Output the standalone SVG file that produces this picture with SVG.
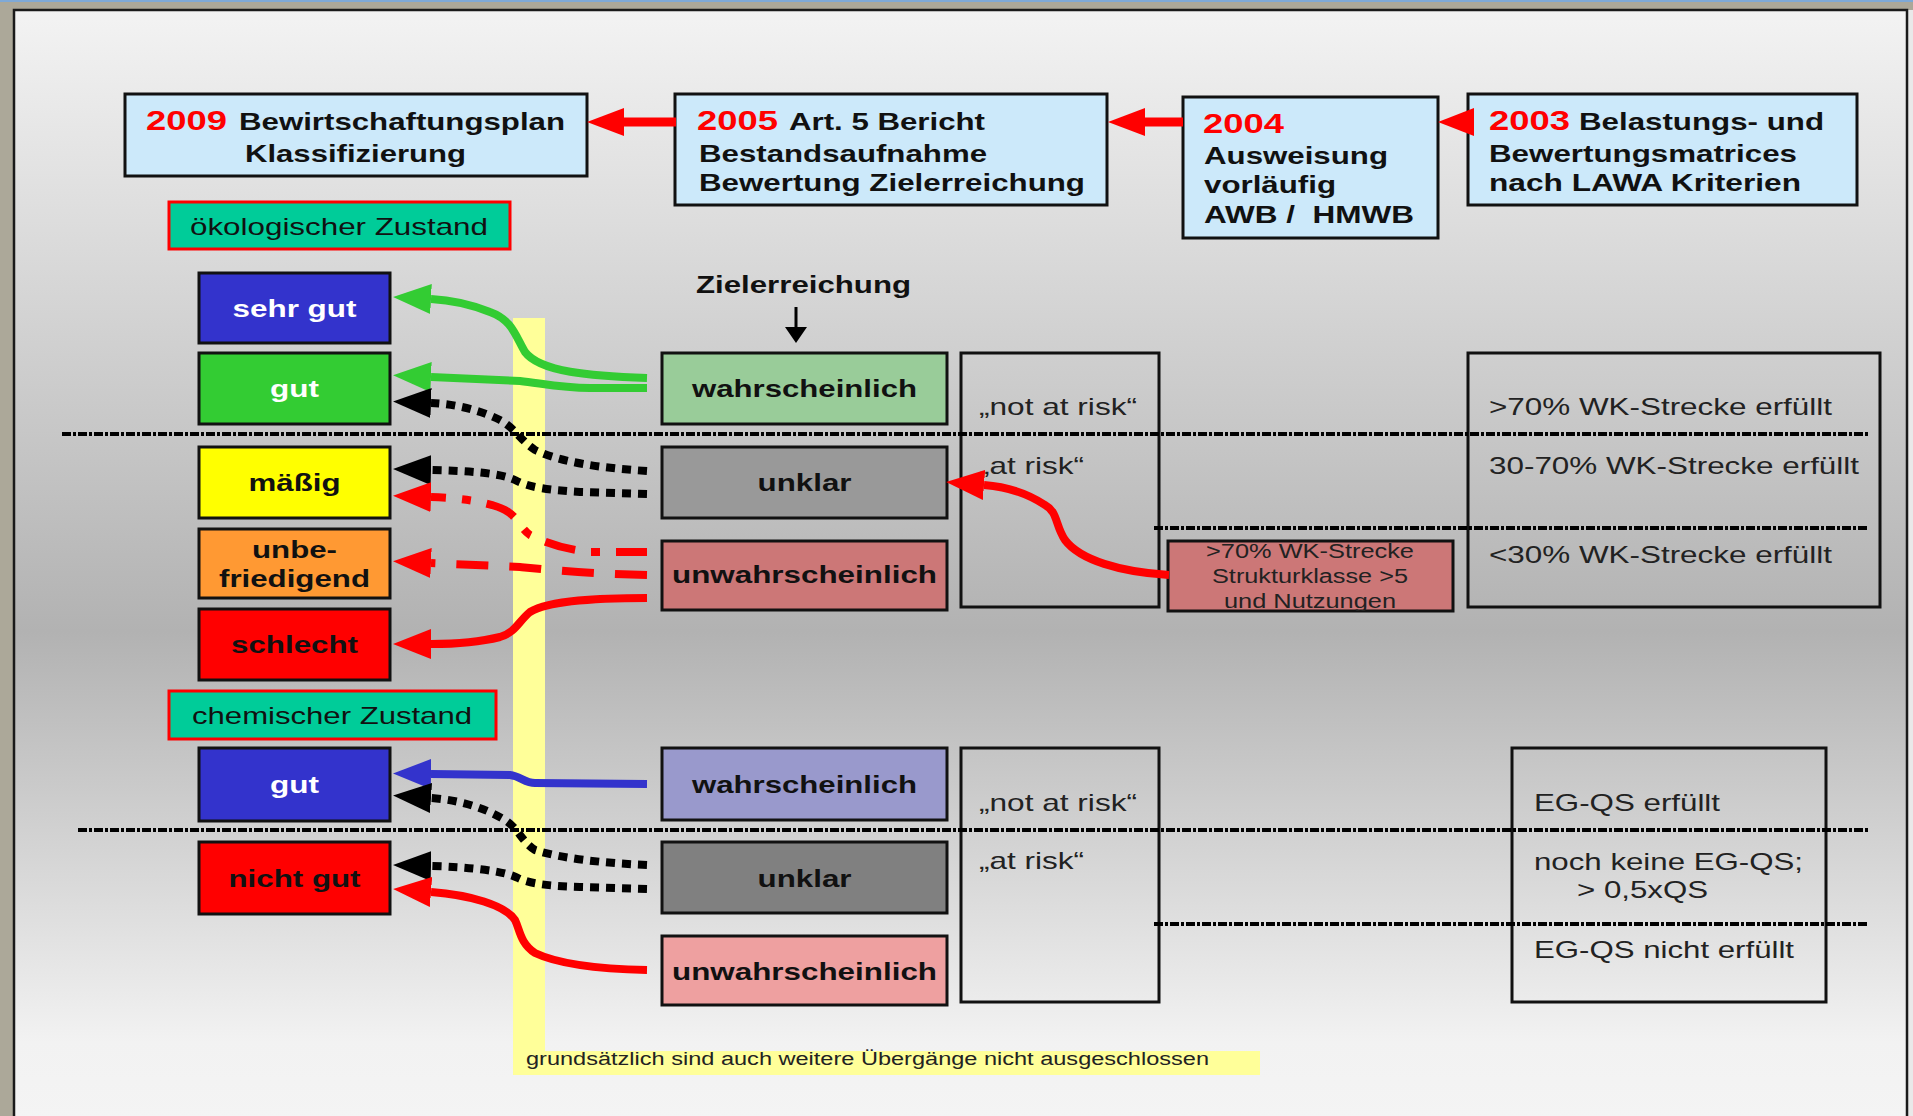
<svg xmlns="http://www.w3.org/2000/svg" width="1913" height="1116" viewBox="0 0 1913 1116">
<defs>
<linearGradient id="bg" x1="0" y1="0" x2="0" y2="1">
<stop offset="0" stop-color="#f3f3f3"/>
<stop offset="0.56" stop-color="#b2b2b2"/>
<stop offset="0.93" stop-color="#f2f2f2"/>
<stop offset="1" stop-color="#f4f4f4"/>
</linearGradient>
<marker id="mG" markerUnits="userSpaceOnUse" markerWidth="38" markerHeight="30" viewBox="0 0 38 30" refX="0" refY="15" orient="auto"><path d="M0,0 L38,15 L0,30 z" fill="#33cc33"/></marker>
<marker id="mK" markerUnits="userSpaceOnUse" markerWidth="38" markerHeight="30" viewBox="0 0 38 30" refX="0" refY="15" orient="auto"><path d="M0,0 L38,15 L0,30 z" fill="#000"/></marker>
<marker id="mR" markerUnits="userSpaceOnUse" markerWidth="38" markerHeight="30" viewBox="0 0 38 30" refX="0" refY="15" orient="auto"><path d="M0,0 L38,15 L0,30 z" fill="#ff0000"/></marker>
<marker id="mB" markerUnits="userSpaceOnUse" markerWidth="38" markerHeight="30" viewBox="0 0 38 30" refX="0" refY="15" orient="auto"><path d="M0,0 L38,15 L0,30 z" fill="#3333cc"/></marker>
<marker id="mT" markerUnits="userSpaceOnUse" markerWidth="37" markerHeight="28" viewBox="0 0 37 28" refX="0" refY="14" orient="auto"><path d="M0,0 L37,14 L0,28 z" fill="#ff0000"/></marker>
<marker id="mD" markerUnits="userSpaceOnUse" markerWidth="16" markerHeight="22" viewBox="0 0 16 22" refX="0" refY="11" orient="auto"><path d="M0,0 L16,11 L0,22 z" fill="#000"/></marker>
<clipPath id="c70"><rect x="1168" y="541" width="285" height="70"/></clipPath>
<style>
.box{stroke:#111;stroke-width:3}
.frame{fill:none;stroke:#111;stroke-width:3}
.top{fill:#cce9fa}
text{font-family:"Liberation Sans",Arial,Helvetica,sans-serif}
.b{font-weight:bold;font-size:24px;fill:#111}
.w{fill:#fff}
.yr{font-size:28px;font-weight:bold;fill:#ff0000}
.r{font-size:24px;fill:#222}
.s{font-size:19.5px;fill:#222}
.f{font-size:18px;fill:#222}
.c{text-anchor:middle}
.pre{white-space:pre}
.dot{fill:none;stroke:#000;stroke-width:4;stroke-dasharray:9 2 3 2}
.ar{fill:none;stroke-width:8}
</style>
</defs>
<rect x="0" y="0" width="1913" height="1116" fill="#aca899"/>
<rect x="0" y="0" width="1913" height="2" fill="#7fa9d6"/>
<rect x="1908" y="10" width="5" height="1106" fill="#e9e9e9"/>
<rect x="14" y="10" width="1893" height="1110" fill="url(#bg)" stroke="#1a1a1a" stroke-width="2.5"/>

<g id="hint">
<rect x="513" y="318" width="32" height="733" fill="#ffff99"/>
<rect x="513" y="1051" width="747" height="24" fill="#ffff99"/>
<text x="526" y="1065" class="f" textLength="683" lengthAdjust="spacingAndGlyphs">grundsätzlich sind auch weitere Übergänge nicht ausgeschlossen</text>
</g>

<g id="n2009">
<rect x="125" y="94" width="462" height="82" class="box top"/>
<text x="146" y="130" class="yr" textLength="81" lengthAdjust="spacingAndGlyphs">2009</text>
<text x="239" y="130" class="b" textLength="326" lengthAdjust="spacingAndGlyphs">Bewirtschaftungsplan</text>
<text x="245" y="162" class="b" textLength="221" lengthAdjust="spacingAndGlyphs">Klassifizierung</text>
</g>
<g id="n2005">
<rect x="675" y="94" width="432" height="111" class="box top"/>
<text x="697" y="130" class="yr" textLength="81" lengthAdjust="spacingAndGlyphs">2005</text>
<text x="789" y="130" class="b" textLength="196" lengthAdjust="spacingAndGlyphs">Art. 5 Bericht</text>
<text x="699" y="162" class="b" textLength="288" lengthAdjust="spacingAndGlyphs">Bestandsaufnahme</text>
<text x="699" y="191" class="b" textLength="386" lengthAdjust="spacingAndGlyphs">Bewertung Zielerreichung</text>
</g>
<g id="n2004">
<rect x="1183" y="97" width="255" height="141" class="box top"/>
<text x="1203" y="133" class="yr" textLength="81" lengthAdjust="spacingAndGlyphs">2004</text>
<text x="1204" y="164" class="b" textLength="184" lengthAdjust="spacingAndGlyphs">Ausweisung</text>
<text x="1204" y="193" class="b" textLength="132" lengthAdjust="spacingAndGlyphs">vorläufig</text>
<text x="1204" y="223" class="b pre" textLength="210" lengthAdjust="spacingAndGlyphs">AWB /  HMWB</text>
</g>
<g id="n2003">
<rect x="1468" y="94" width="389" height="111" class="box top"/>
<text x="1489" y="130" class="yr" textLength="81" lengthAdjust="spacingAndGlyphs">2003</text>
<text x="1579" y="130" class="b" textLength="245" lengthAdjust="spacingAndGlyphs">Belastungs- und</text>
<text x="1489" y="162" class="b" textLength="308" lengthAdjust="spacingAndGlyphs">Bewertungsmatrices</text>
<text x="1489" y="191" class="b" textLength="312" lengthAdjust="spacingAndGlyphs">nach LAWA Kriterien</text>
</g>

<g id="oeko">
<rect x="169" y="202" width="341" height="47" fill="#00cc99" stroke="#ff0000" stroke-width="3"/>
<text x="190" y="235" class="r" style="fill:#111" textLength="298" lengthAdjust="spacingAndGlyphs">ökologischer Zustand</text>
</g>
<g id="sehrgut">
<rect x="199" y="273" width="191" height="70" class="box" fill="#3333cc"/>
<text x="294.5" y="317" class="b w c" textLength="124" lengthAdjust="spacingAndGlyphs">sehr gut</text>
</g>
<g id="gut">
<rect x="199" y="353" width="191" height="71" class="box" fill="#33cc33"/>
<text x="294.5" y="397" class="b w c" textLength="49" lengthAdjust="spacingAndGlyphs">gut</text>
</g>
<g id="maessig">
<rect x="199" y="447" width="191" height="71" class="box" fill="#ffff00"/>
<text x="294.5" y="491" class="b c" textLength="92" lengthAdjust="spacingAndGlyphs">mäßig</text>
</g>
<g id="unbefriedigend">
<rect x="199" y="529" width="191" height="69" class="box" fill="#ff9933"/>
<text x="294.5" y="558" class="b c" textLength="85" lengthAdjust="spacingAndGlyphs">unbe-</text>
<text x="294.5" y="587" class="b c" textLength="151" lengthAdjust="spacingAndGlyphs">friedigend</text>
</g>
<g id="schlecht">
<rect x="199" y="609" width="191" height="71" class="box" fill="#ff0000"/>
<text x="294.5" y="653" class="b c" textLength="127" lengthAdjust="spacingAndGlyphs">schlecht</text>
</g>
<g id="chem">
<rect x="169" y="691" width="327" height="48" fill="#00cc99" stroke="#ff0000" stroke-width="3"/>
<text x="192" y="724" class="r" style="fill:#111" textLength="280" lengthAdjust="spacingAndGlyphs">chemischer Zustand</text>
</g>
<g id="chemgut">
<rect x="199" y="748" width="191" height="73" class="box" fill="#3333cc"/>
<text x="294.5" y="793" class="b w c" textLength="49" lengthAdjust="spacingAndGlyphs">gut</text>
</g>
<g id="nichtgut">
<rect x="199" y="842" width="191" height="72" class="box" fill="#ff0000"/>
<text x="294.5" y="887" class="b c" textLength="132" lengthAdjust="spacingAndGlyphs">nicht gut</text>
</g>

<g id="zielerreichung">
<text x="696" y="293" class="b" textLength="215" lengthAdjust="spacingAndGlyphs">Zielerreichung</text>
</g>
<g id="eco-wahr">
<rect x="662" y="353" width="285" height="71" class="box" fill="#99cc99"/>
<text x="804.5" y="397" class="b c" textLength="225" lengthAdjust="spacingAndGlyphs">wahrscheinlich</text>
</g>
<g id="eco-unklar">
<rect x="662" y="447" width="285" height="71" class="box" fill="#999999"/>
<text x="804.5" y="491" class="b c" textLength="94" lengthAdjust="spacingAndGlyphs">unklar</text>
</g>
<g id="eco-unwahr">
<rect x="662" y="541" width="285" height="69" class="box" fill="#cc7777"/>
<text x="804.5" y="583" class="b c" textLength="265" lengthAdjust="spacingAndGlyphs">unwahrscheinlich</text>
</g>
<g id="eco-risk">
<rect x="961" y="353" width="198" height="254" class="frame"/>
<text x="979" y="415" class="r" textLength="158" lengthAdjust="spacingAndGlyphs">„not at risk“</text>
<text x="979" y="474" class="r" textLength="105" lengthAdjust="spacingAndGlyphs">„at risk“</text>
</g>
<g id="crit70">
<rect x="1168" y="541" width="285" height="70" class="box" fill="#cc7777"/>
<g clip-path="url(#c70)">
<text x="1310" y="558" class="s c" textLength="208" lengthAdjust="spacingAndGlyphs">&gt;70% WK-Strecke</text>
<text x="1310" y="583" class="s c" textLength="196" lengthAdjust="spacingAndGlyphs">Strukturklasse &gt;5</text>
<text x="1310" y="608" class="s c" textLength="172" lengthAdjust="spacingAndGlyphs">und Nutzungen</text>
</g>
</g>
<g id="eco-criteria">
<rect x="1468" y="353" width="412" height="254" class="frame"/>
<text x="1489" y="415" class="r" textLength="343" lengthAdjust="spacingAndGlyphs">&gt;70% WK-Strecke erfüllt</text>
<text x="1489" y="474" class="r" textLength="370" lengthAdjust="spacingAndGlyphs">30-70% WK-Strecke erfüllt</text>
<text x="1489" y="563" class="r" textLength="343" lengthAdjust="spacingAndGlyphs">&lt;30% WK-Strecke erfüllt</text>
</g>

<g id="chem-wahr">
<rect x="662" y="748" width="285" height="72" class="box" fill="#9999cc"/>
<text x="804.5" y="793" class="b c" textLength="225" lengthAdjust="spacingAndGlyphs">wahrscheinlich</text>
</g>
<g id="chem-unklar">
<rect x="662" y="842" width="285" height="71" class="box" fill="#808080"/>
<text x="804.5" y="887" class="b c" textLength="94" lengthAdjust="spacingAndGlyphs">unklar</text>
</g>
<g id="chem-unwahr">
<rect x="662" y="936" width="285" height="69" class="box" fill="#eea0a0"/>
<text x="804.5" y="980" class="b c" textLength="265" lengthAdjust="spacingAndGlyphs">unwahrscheinlich</text>
</g>
<g id="chem-risk">
<rect x="961" y="748" width="198" height="254" class="frame"/>
<text x="979" y="811" class="r" textLength="158" lengthAdjust="spacingAndGlyphs">„not at risk“</text>
<text x="979" y="869" class="r" textLength="105" lengthAdjust="spacingAndGlyphs">„at risk“</text>
</g>
<g id="chem-criteria">
<rect x="1512" y="748" width="314" height="254" class="frame"/>
<text x="1534" y="811" class="r" textLength="186" lengthAdjust="spacingAndGlyphs">EG-QS erfüllt</text>
<text x="1534" y="870" class="r" textLength="269" lengthAdjust="spacingAndGlyphs">noch keine EG-QS;</text>
<text x="1577" y="898" class="r" textLength="131" lengthAdjust="spacingAndGlyphs">&gt; 0,5xQS</text>
<text x="1534" y="958" class="r" textLength="260" lengthAdjust="spacingAndGlyphs">EG-QS nicht erfüllt</text>
</g>

<g id="separators">
<path class="dot" d="M62,434 H1869"/>
<path class="dot" d="M1154,528 H1869"/>
<path class="dot" d="M78,830 H1869"/>
<path class="dot" d="M1154,924 H1869"/>
</g>

<g id="connectors">
<path d="M676,122 H624" stroke="#ff0000" stroke-width="9" marker-end="url(#mT)"/>
<path d="M1183,122 H1145" stroke="#ff0000" stroke-width="9" marker-end="url(#mT)"/>
<polygon points="1438,122 1474,108 1474,136" fill="#ff0000"/>
<path d="M796,307 V327" stroke="#000" stroke-width="3" marker-end="url(#mD)"/>

<path class="ar" stroke="#33cc33" d="M647,378 C590,376 540,372 525,352 C515,335 512,320 490,312 C470,304 450,300 431,299" marker-end="url(#mG)"/>
<path class="ar" stroke="#33cc33" d="M647,388 L590,388 C560,388 540,383 520,381 L431,377" marker-end="url(#mG)"/>
<path class="ar" stroke="#000" stroke-dasharray="9 7" d="M647,471 C600,468 560,462 535,450 C520,440 515,428 500,420 C480,410 455,404 431,403" marker-end="url(#mK)"/>
<path class="ar" stroke="#000" stroke-dasharray="9 7" d="M647,494 L580,492 C550,490 530,488 515,480 C500,473 470,471 431,470" marker-end="url(#mK)"/>
<path class="ar" stroke="#ff0000" stroke-dasharray="31 16 9 16" d="M647,552 L590,552 C570,550 550,545 530,535 C520,528 518,517 505,510 C490,502 460,498 431,497" marker-end="url(#mR)"/>
<path class="ar" stroke="#ff0000" stroke-dasharray="32 21" d="M647,575 C600,574 560,571 520,567 L431,563" marker-end="url(#mR)"/>
<path class="ar" stroke="#ff0000" d="M647,598 C600,598 550,600 530,612 C518,622 516,632 500,637 C480,642 460,644 431,644" marker-end="url(#mR)"/>
<path class="ar" stroke="#ff0000" d="M1169,575 C1120,572 1080,560 1065,540 C1055,525 1058,512 1045,505 C1030,495 1010,487 984,485" marker-end="url(#mR)"/>

<path class="ar" stroke="#3333cc" d="M647,784 L535,783 C525,783 520,776 510,775 L431,774" marker-end="url(#mB)"/>
<path class="ar" stroke="#000" stroke-dasharray="9 7" d="M647,865 C600,863 560,858 535,850 C522,842 518,828 505,820 C485,808 460,800 431,798" marker-end="url(#mK)"/>
<path class="ar" stroke="#000" stroke-dasharray="9 7" d="M647,889 L580,887 C550,886 530,884 518,878 C505,871 470,867 431,866" marker-end="url(#mK)"/>
<path class="ar" stroke="#ff0000" d="M647,970 C600,969 560,965 535,953 C520,943 520,930 515,920 C505,905 470,895 431,892" marker-end="url(#mR)"/>
</g>
</svg>
